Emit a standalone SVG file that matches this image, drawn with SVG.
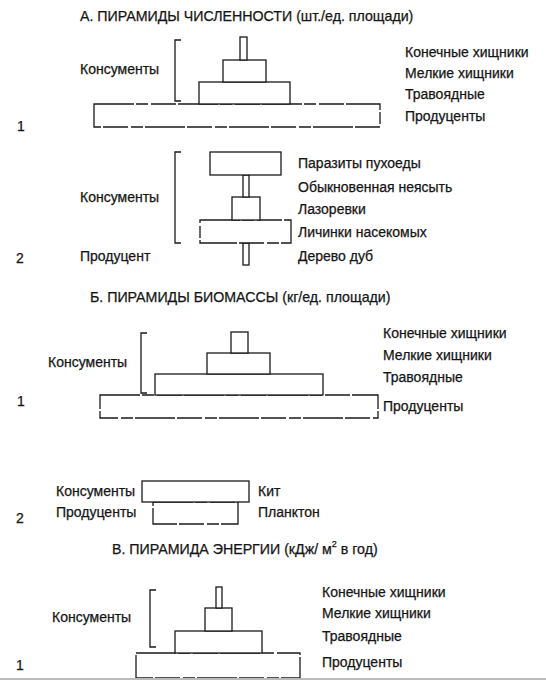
<svg xmlns="http://www.w3.org/2000/svg" width="546" height="680" viewBox="0 0 546 680">
<style>
text{font-family:"Liberation Sans",Arial,sans-serif;font-size:14px;fill:#151515;stroke:#151515;stroke-width:0.25;dominant-baseline:central}
.t{font-size:14.2px}
.b{fill:#fff;stroke:#1a1a1a;stroke-width:1.3}
.d{fill:#fff;stroke:#1a1a1a;stroke-width:1.3;stroke-dasharray:40 2 12 3 25 2}
.br{fill:none;stroke:#1a1a1a;stroke-width:1.3}
</style>
<rect width="546" height="680" fill="#fff"/>

<!-- A -->
<g id="titleA"><text class="t" x="80" y="16">А. ПИРАМИДЫ ЧИСЛЕННОСТИ (шт./ед. площади)</text></g>
<g id="A1">
<rect class="d" x="94" y="104" width="286" height="23"/>
<rect class="b" x="199" y="82" width="91" height="22"/>
<rect class="b" x="223" y="60" width="43" height="22"/>
<rect class="b" x="240" y="37" width="7" height="23"/>
<path class="br" d="M181,40 H175 V101 H181"/>
<text x="80" y="69">Консументы</text>
<text x="405" y="52">Конечные хищники</text>
<text x="405" y="73">Мелкие хищники</text>
<text x="405" y="94">Травоядные</text>
<text x="405" y="116">Продуценты</text>
<text x="17" y="126">1</text>
</g>
<g id="A2">
<rect class="b" x="243" y="243" width="6" height="22"/>
<rect class="d" x="200" y="220" width="91" height="23"/>
<rect class="b" x="232" y="197" width="28" height="23"/>
<rect class="b" x="243" y="175" width="6" height="22"/>
<rect class="b" x="210" y="152" width="71" height="23"/>
<path class="br" d="M181,152 H175 V243 H181"/>
<text x="80" y="197">Консументы</text>
<text x="80" y="256">Продуцент</text>
<text x="298" y="163">Паразиты пухоеды</text>
<text x="298" y="187">Обыкновенная неясыть</text>
<text x="298" y="209">Лазоревки</text>
<text x="298" y="232">Личинки насекомых</text>
<text x="298" y="256">Дерево дуб</text>
<text x="16" y="258">2</text>
</g>

<!-- B -->
<g id="titleB"><text class="t" x="90" y="297">Б. ПИРАМИДЫ БИОМАССЫ (кг/ед. площади)</text></g>
<g id="B1">
<rect class="d" x="100" y="395" width="278" height="23"/>
<rect class="b" x="155" y="374" width="168" height="21"/>
<rect class="b" x="207" y="353" width="63" height="21"/>
<rect class="b" x="231" y="332" width="17" height="21"/>
<path class="br" d="M147,333 H141 V393 H147"/>
<text x="48" y="362">Консументы</text>
<text x="383" y="333">Конечные хищники</text>
<text x="383" y="355">Мелкие хищники</text>
<text x="383" y="377">Травоядные</text>
<text x="383" y="406">Продуценты</text>
<text x="17" y="401">1</text>
</g>
<g id="B2">
<rect class="d" x="153" y="502" width="85" height="22"/>
<rect class="b" x="142" y="481" width="107" height="21"/>
<text x="56" y="491">Консументы</text>
<text x="56" y="512">Продуценты</text>
<text x="258" y="491">Кит</text>
<text x="258" y="512">Планктон</text>
<text x="16" y="518">2</text>
</g>

<!-- V -->
<g id="titleV"><text class="t" x="112" y="549">В. ПИРАМИДА ЭНЕРГИИ (кДж/ м<tspan font-size="9" dy="-5">2</tspan><tspan dy="5"> в год)</tspan></text></g>
<g id="V1">
<rect class="d" x="136" y="653" width="164" height="25"/>
<rect class="b" x="175" y="631" width="87" height="22"/>
<rect class="b" x="205" y="608" width="27" height="23"/>
<rect class="b" x="216" y="587" width="6" height="21"/>
<path class="br" d="M156,590 H150 V647 H156"/>
<text x="52" y="617">Консументы</text>
<text x="322" y="592">Конечные хищники</text>
<text x="322" y="613">Мелкие хищники</text>
<text x="322" y="636">Травоядные</text>
<text x="322" y="662">Продуценты</text>
<text x="16" y="665">1</text>
</g>
<line x1="0" y1="679" x2="546" y2="679" stroke="#bbb" stroke-width="2"/>
</svg>
